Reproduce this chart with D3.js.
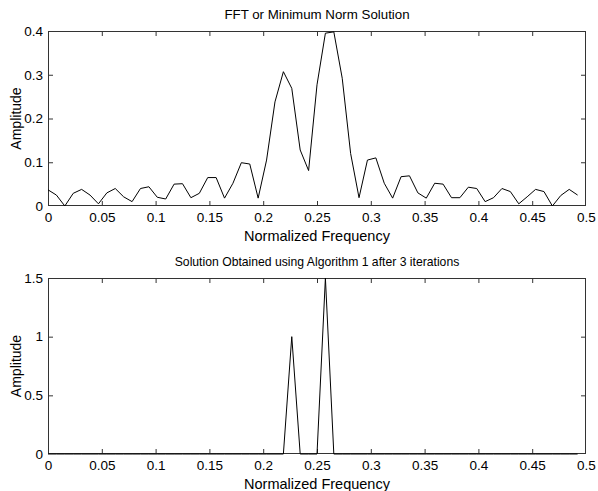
<!DOCTYPE html>
<html>
<head>
<meta charset="utf-8">
<script src="https://cdn.jsdelivr.net/npm/d3@7"></script>
<style>
  html, body { margin: 0; padding: 0; background: #fff; }
  svg { display: block; }
  text { font-family: "Liberation Sans", Arial, sans-serif; fill: #000; }
</style>
</head>
<body>
<svg id="chart" width="598" height="491"></svg>
<script>
// Frequency bin index k -> normalized frequency k/128
const binCount = 64;
const binDenominator = 128;

// Top panel: FFT / minimum norm solution amplitudes (k = 0..63)
const fftAmplitude = [
  0.037, 0.025, 0.000, 0.029, 0.038, 0.025, 0.005, 0.030,
  0.040, 0.021, 0.010, 0.040, 0.044, 0.020, 0.016, 0.050,
  0.051, 0.019, 0.029, 0.065, 0.065, 0.018, 0.052, 0.099,
  0.096, 0.018, 0.105, 0.238, 0.307, 0.269, 0.128, 0.081,
  0.277, 0.395, 0.398, 0.292, 0.120, 0.019, 0.105, 0.110,
  0.052, 0.018, 0.067, 0.069, 0.030, 0.018, 0.052, 0.050,
  0.019, 0.019, 0.043, 0.040, 0.010, 0.019, 0.040, 0.033,
  0.005, 0.021, 0.038, 0.033, 0.000, 0.024, 0.038, 0.025
];

// Bottom panel: Algorithm 1 after 3 iterations (nonzero bins only)
const algoBins = [29, 33];
const algoValues = [1.0, 1.5];

const xTicks = [0, 0.05, 0.1, 0.15, 0.2, 0.25, 0.3, 0.35, 0.4, 0.45, 0.5];
const yTicksTop = [0, 0.1, 0.2, 0.3, 0.4];
const yTicksBottom = [0, 0.5, 1, 1.5];

const titles = ["FFT or Minimum Norm Solution", "Solution Obtained using Algorithm 1 after 3 iterations"];
const xLabel = "Normalized Frequency";
const yLabel = "Amplitude";

const freqs = d3.range(binCount).map(k => k / binDenominator);
const topData = freqs.map((f, i) => ({ f, v: fftAmplitude[i] }));
const bottomData = freqs.map((f, i) => {
  const j = algoBins.indexOf(i);
  return { f, v: j >= 0 ? algoValues[j] : 0 };
});

const svg = d3.select("#chart");
const left = 48, right = 586;

function fmt(d) { return d === 0 ? "0" : String(+d.toFixed(2)); }

function panel(top, bottom, yDomain, yTicks, data, title, titleSize) {
  const x = d3.scaleLinear().domain([0, 0.5]).range([left, right]);
  const y = d3.scaleLinear().domain(yDomain).range([bottom, top]);
  const g = svg.append("g");
  const tickLen = 5;
  const axisColor = "#333";

  const xb = g.append("g").attr("transform", `translate(0,${bottom})`)
    .call(d3.axisBottom(x).tickValues(xTicks).tickSize(-tickLen).tickPadding(6).tickFormat(fmt));
  const xt = g.append("g").attr("transform", `translate(0,${top})`)
    .call(d3.axisTop(x).tickValues(xTicks).tickSize(-tickLen).tickFormat(""));
  const yl = g.append("g").attr("transform", `translate(${left},0)`)
    .call(d3.axisLeft(y).tickValues(yTicks).tickSize(-tickLen).tickPadding(5).tickFormat(fmt));
  const yr = g.append("g").attr("transform", `translate(${right},0)`)
    .call(d3.axisRight(y).tickValues(yTicks).tickSize(-tickLen).tickFormat(""));

  [xb, xt, yl, yr].forEach(a => {
    a.select(".domain").remove();
    a.selectAll(".tick line").attr("stroke", axisColor).attr("stroke-width", 1);
    a.selectAll(".tick text").style("font-family", '"Liberation Sans", Arial, sans-serif')
      .style("font-size", "13.5px").attr("fill", "#000");
  });
  xb.selectAll(".tick").filter(d => d === 0 || d === 0.5).select("line").remove();
  xt.selectAll(".tick").filter(d => d === 0 || d === 0.5).select("line").remove();
  yl.selectAll(".tick").filter((d, i) => i === 0 || d === yDomain[1]).select("line").remove();
  yr.selectAll(".tick").filter((d, i) => i === 0 || d === yDomain[1]).select("line").remove();

  g.append("rect")
    .attr("x", left + 0.5).attr("y", top + 0.5)
    .attr("width", right - left - 1).attr("height", bottom - top - 1)
    .attr("fill", "none").attr("stroke", axisColor).attr("stroke-width", 1);

  const line = d3.line().x(d => x(d.f)).y(d => y(d.v));
  g.append("path").datum(data)
    .attr("d", line).attr("fill", "none")
    .attr("stroke", "#000").attr("stroke-width", 1);

  g.append("text").attr("x", (left + right) / 2).attr("y", top - 12)
    .attr("text-anchor", "middle").style("font-size", titleSize).text(title);
  g.append("text").attr("x", (left + right) / 2).attr("y", bottom + 35)
    .attr("text-anchor", "middle").style("font-size", "14.5px").text(xLabel);
  g.append("text")
    .attr("transform", `translate(21,${(top + bottom) / 2}) rotate(-90)`)
    .attr("text-anchor", "middle").style("font-size", "14px").text(yLabel);
}

panel(31, 206, [0, 0.4], yTicksTop, topData, titles[0], "13.3px");
panel(278, 454, [0, 1.5], yTicksBottom, bottomData, titles[1], "12.2px");
</script>
</body>
</html>
